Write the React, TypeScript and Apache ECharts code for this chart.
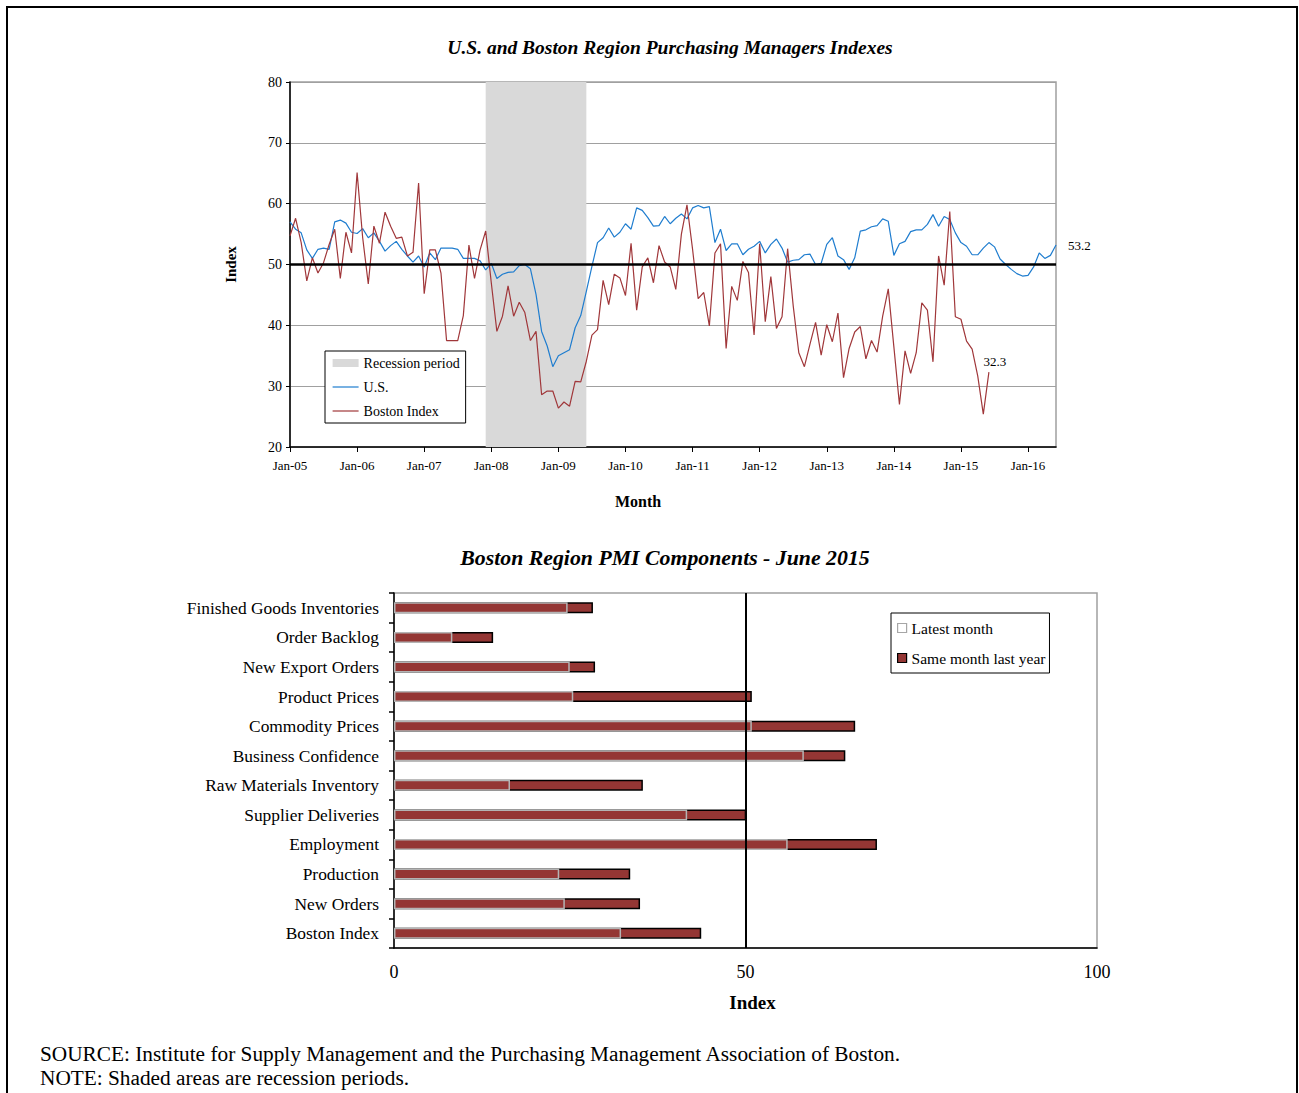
import React, { useEffect, useRef } from "react";
import * as echarts from "echarts";

const FONT = "'Liberation Serif', 'Times New Roman', Times, serif";

const MONTH_NAMES = ["Jan", "Feb", "Mar", "Apr", "May", "Jun", "Jul", "Aug", "Sep", "Oct", "Nov", "Dec"];
const YEARS = ["05", "06", "07", "08", "09", "10", "11", "12", "13", "14", "15", "16"];
const monthLabels: string[] = [];
YEARS.forEach((y) => MONTH_NAMES.forEach((m) => monthLabels.push(`${m}-${y}`)));
const months = monthLabels.slice(0, 138); // Jan-05 .. Jun-16

// U.S. ISM PMI, Jan-05 .. Jun-16
const usPMI = [
  57.0, 55.8, 55.2, 52.4, 51.0, 52.5, 52.7, 52.5, 57.0, 57.3, 56.8, 55.3,
  55.1, 55.9, 54.4, 55.2, 53.8, 52.2, 53.1, 53.8, 52.5, 51.4, 50.4, 51.4,
  49.6, 51.9, 50.8, 52.7, 52.7, 52.7, 52.5, 51.0, 51.0, 51.0, 50.6, 49.1,
  50.2, 47.7, 48.4, 48.7, 48.8, 49.8, 50.0, 49.3, 45.1, 39.0, 36.6, 33.2,
  35.0, 35.5, 36.0, 39.6, 41.6, 45.6, 49.7, 53.6, 54.4, 56.0, 54.5, 55.3,
  56.7, 55.8, 59.3, 58.9, 57.7, 56.3, 56.4, 57.9, 56.7, 57.6, 58.3, 57.5,
  59.3, 59.7, 59.3, 59.5, 53.6, 55.8, 52.3, 53.4, 53.4, 51.6, 52.5, 53.0,
  53.8, 51.9, 53.3, 54.2, 52.7, 50.4, 50.7, 50.8, 51.6, 51.7, 50.0, 50.2,
  53.3, 54.4, 51.4, 50.8, 49.2, 51.1, 55.5, 55.7, 56.2, 56.4, 57.5, 57.1,
  51.5, 53.4, 53.8, 55.4, 55.7, 55.7, 56.6, 58.2, 56.3, 57.9, 57.4, 55.2,
  53.6, 53.0, 51.6, 51.6, 52.7, 53.6, 52.9, 50.9, 50.0, 49.2, 48.5, 48.1,
  48.2, 49.6, 51.9, 51.0, 51.5, 53.2,
];

// Boston Region PMI, Jan-05 .. Jun-15
const bostonPMI = [
  54.7, 57.6, 53.6, 47.3, 51.1, 48.6, 50.3, 53.3, 55.8, 47.7, 55.3, 51.9,
  65.1, 54.4, 46.8, 56.3, 53.5, 58.6, 56.3, 54.3, 54.5, 51.4, 52.0, 63.4,
  45.2, 52.4, 52.4, 48.6, 37.5, 37.5, 37.5, 41.6, 53.2, 47.7, 52.4, 55.5,
  47.0, 39.0, 41.5, 46.5, 41.5, 43.8, 42.1, 37.5, 39.0, 28.6, 29.2, 29.2,
  26.4, 27.4, 26.7, 30.8, 30.7, 34.1, 38.4, 39.3, 47.4, 43.4, 48.4, 47.8,
  44.9, 53.5, 42.5, 49.6, 51.1, 47.0, 53.1, 50.4, 49.6, 45.9, 55.0, 59.8,
  52.5, 44.4, 45.4, 39.9, 51.9, 53.4, 36.2, 46.4, 44.1, 50.5, 48.7, 38.4,
  53.4, 40.6, 48.0, 39.5, 41.4, 52.6, 43.2, 35.5, 33.2, 36.9, 40.5, 35.1,
  40.1, 37.3, 42.0, 31.4, 36.2, 38.9, 39.8, 34.5, 37.5, 35.6, 41.5, 46.0,
  36.5, 27.0, 35.8, 32.1, 35.5, 43.7, 42.5, 34.0, 51.4, 46.6, 58.7, 41.4,
  41.0, 37.4, 36.1, 31.7, 25.4, 32.3,
];

const recessionStart = "Dec-07";
const recessionEnd = "Jun-09";

// Bottom chart (top-down order)
const components = [
  "Finished Goods Inventories",
  "Order Backlog",
  "New Export Orders",
  "Product Prices",
  "Commodity Prices",
  "Business Confidence",
  "Raw Materials Inventory",
  "Supplier Deliveries",
  "Employment",
  "Production",
  "New Orders",
  "Boston Index",
];
const latestMonth = [24.7, 8.3, 25.0, 25.5, 50.9, 58.3, 16.5, 41.7, 56.0, 23.5, 24.3, 32.3];
const sameMonthLastYear = [28.3, 14.1, 28.6, 50.9, 65.6, 64.2, 35.4, 50.1, 68.7, 33.6, 35.0, 43.7];

const BLUE = "#1f7dcf";
const RED = "#a0373a";
const BAR_RED = "#943634";
const HIDDEN = { color: "rgba(0,0,0,0)", borderColor: "rgba(0,0,0,0)", borderWidth: 0 };

export default function App() {
  const ref = useRef<HTMLDivElement>(null);

  useEffect(() => {
    if (!ref.current) return;
    const chart = echarts.init(ref.current, null, { renderer: "svg" });

    const usData: any[] = usPMI.map((v, i) =>
      i === usPMI.length - 1
        ? {
            value: v,
            symbol: "circle",
            symbolSize: 0.1,
            label: { show: true, position: "right", distance: 12, formatter: "{c}", fontSize: 13, color: "#000", fontFamily: FONT },
          }
        : v
    );
    const bosData: any[] = bostonPMI.map((v, i) =>
      i === bostonPMI.length - 1
        ? {
            value: v,
            symbol: "circle",
            symbolSize: 0.1,
            label: { show: true, position: "top", distance: 4, offset: [6, 0], formatter: "{c}", fontSize: 13, color: "#000", fontFamily: FONT },
          }
        : v
    );

    const option: any = {
      animation: false,
      backgroundColor: "#fff",
      textStyle: { fontFamily: FONT, color: "#000" },
      graphic: [
        {
          type: "rect",
          shape: { x: 7, y: 7, width: 1290, height: 1100 },
          style: { fill: "none", stroke: "#000", lineWidth: 2 },
          silent: true,
        },
        {
          type: "text",
          x: 670,
          y: 47,
          style: {
            text: "U.S. and Boston Region Purchasing Managers Indexes",
            fill: "#000",
            font: `italic bold 19.5px ${FONT}`,
            align: "center",
            verticalAlign: "middle",
          },
        },
        {
          type: "text",
          x: 665,
          y: 558,
          style: {
            text: "Boston Region PMI Components - June 2015",
            fill: "#000",
            font: `italic bold 21.8px ${FONT}`,
            align: "center",
            verticalAlign: "middle",
          },
        },
        {
          type: "text",
          x: 40,
          y: 1054,
          style: {
            text: "SOURCE: Institute for Supply Management and the Purchasing Management Association of Boston.",
            fill: "#000",
            font: `21.3px ${FONT}`,
            align: "left",
            verticalAlign: "middle",
          },
        },
        {
          type: "text",
          x: 40,
          y: 1078,
          style: {
            text: "NOTE: Shaded areas are recession periods.",
            fill: "#000",
            font: `21.3px ${FONT}`,
            align: "left",
            verticalAlign: "middle",
          },
        },
      ],
      legend: [
        {
          orient: "vertical",
          left: 325,
          top: 351,
          padding: [5, 6, 5, 7],
          itemGap: 10,
          itemWidth: 26,
          itemHeight: 8,
          backgroundColor: "#fff",
          borderColor: "#000",
          borderWidth: 1,
          textStyle: { fontFamily: FONT, fontSize: 14, color: "#000" },
          data: [
            { name: "Recession period", icon: "rect", itemStyle: { color: "#d9d9d9" } },
            { name: "U.S.", itemStyle: HIDDEN, lineStyle: { color: BLUE, width: 1.2 } },
            { name: "Boston Index", itemStyle: HIDDEN, lineStyle: { color: RED, width: 1.2 } },
          ],
        },
        {
          orient: "vertical",
          left: 891,
          top: 613,
          padding: [7, 4, 7, 6],
          itemGap: 14,
          itemWidth: 9,
          itemHeight: 9,
          backgroundColor: "#fff",
          borderColor: "#000",
          borderWidth: 1,
          textStyle: { fontFamily: FONT, fontSize: 15.5, color: "#000" },
          data: [
            { name: "Latest month", icon: "rect", itemStyle: { color: "#fff", borderColor: "#a6a6a6", borderWidth: 1.2 } },
            { name: "Same month last year", icon: "rect", itemStyle: { color: BAR_RED, borderColor: "#000", borderWidth: 1.2 } },
          ],
        },
      ],
      grid: [
        { left: 290, top: 82, width: 766, height: 365, show: true, borderColor: "#a0a0a0", borderWidth: 1.5 },
        { left: 394, top: 593, width: 703, height: 355, show: true, borderColor: "#a0a0a0", borderWidth: 1.5 },
      ],
      xAxis: [
        {
          type: "category",
          gridIndex: 0,
          data: months,
          boundaryGap: false,
          axisLine: { lineStyle: { color: "#000", width: 1.5 } },
          axisTick: { show: true, interval: 11, length: 5, lineStyle: { color: "#000" } },
          axisLabel: { interval: 11, fontSize: 13, color: "#000", margin: 12, fontFamily: FONT },
          splitLine: { show: false },
          name: "Month",
          nameLocation: "middle",
          nameGap: 46,
          nameTextStyle: { fontFamily: FONT, fontWeight: "bold", fontSize: 16, color: "#000", padding: [0, 70, 0, 0] },
        },
        {
          type: "value",
          gridIndex: 1,
          min: 0,
          max: 100,
          interval: 50,
          axisLine: { show: true, lineStyle: { color: "#000", width: 1.5 } },
          axisTick: { show: false },
          axisLabel: { fontSize: 18, color: "#000", margin: 15, fontFamily: FONT },
          splitLine: { show: false },
          name: "Index",
          nameLocation: "middle",
          nameGap: 45,
          nameTextStyle: { fontFamily: FONT, fontWeight: "bold", fontSize: 19, color: "#000", padding: [0, 0, 0, 14] },
        },
      ],
      yAxis: [
        {
          type: "value",
          gridIndex: 0,
          min: 20,
          max: 80,
          interval: 10,
          axisLine: { show: true, lineStyle: { color: "#000", width: 1.5 } },
          axisTick: { show: true, length: 4, lineStyle: { color: "#000" } },
          axisLabel: { fontSize: 14, color: "#000", margin: 8, fontFamily: FONT },
          splitLine: { show: true, lineStyle: { color: "#a0a0a0", width: 1 } },
          name: "Index",
          nameLocation: "middle",
          nameGap: 52,
          nameRotate: 90,
          nameTextStyle: { fontFamily: FONT, fontWeight: "bold", fontSize: 15, color: "#000" },
        },
        {
          type: "category",
          gridIndex: 1,
          inverse: true,
          data: components,
          axisLine: { show: true, lineStyle: { color: "#000", width: 1.5 } },
          axisTick: { show: true, length: 5, lineStyle: { color: "#000", width: 1.5 } },
          axisLabel: { fontSize: 17.4, color: "#000", margin: 15, fontFamily: FONT },
          splitLine: { show: false },
        },
      ],
      series: [
        {
          name: "Recession period",
          type: "line",
          xAxisIndex: 0,
          yAxisIndex: 0,
          data: [],
          symbol: "none",
          color: "#d9d9d9",
          markArea: {
            silent: true,
            itemStyle: { color: "#d9d9d9" },
            data: [[{ xAxis: recessionStart }, { xAxis: recessionEnd }]],
          },
        },
        {
          name: "U.S.",
          type: "line",
          xAxisIndex: 0,
          yAxisIndex: 0,
          data: usData,
          symbol: "none",
          showAllSymbol: true,
          color: BLUE,
          lineStyle: { color: BLUE, width: 1.2 },
          z: 3,
          markLine: {
            silent: true,
            symbol: "none",
            label: { show: false },
            lineStyle: { color: "#000", width: 2.5, type: "solid" },
            data: [{ yAxis: 50 }],
          },
        },
        {
          name: "Boston Index",
          type: "line",
          xAxisIndex: 0,
          yAxisIndex: 0,
          data: bosData,
          symbol: "none",
          showAllSymbol: true,
          color: RED,
          lineStyle: { color: RED, width: 1.2 },
          z: 4,
        },
        {
          name: "Same month last year",
          type: "bar",
          xAxisIndex: 1,
          yAxisIndex: 1,
          data: sameMonthLastYear,
          barWidth: 11,
          itemStyle: { color: BAR_RED, borderColor: "#000", borderWidth: 1.5 },
          markLine: {
            silent: true,
            symbol: "none",
            label: { show: false },
            lineStyle: { color: "#000", width: 2, type: "solid" },
            data: [{ xAxis: 50 }],
          },
        },
        {
          name: "Latest month",
          type: "bar",
          xAxisIndex: 1,
          yAxisIndex: 1,
          data: latestMonth,
          barWidth: 11,
          barGap: "-100%",
          itemStyle: { color: BAR_RED, borderColor: "#b4b4b4", borderWidth: 1.5 },
        },
      ],
    };

    chart.setOption(option);
    return () => chart.dispose();
  }, []);

  return (
    <div
      ref={ref}
      style={{ position: "absolute", left: 0, top: 0, width: 1299, height: 1093, background: "#fff" }}
    />
  );
}
